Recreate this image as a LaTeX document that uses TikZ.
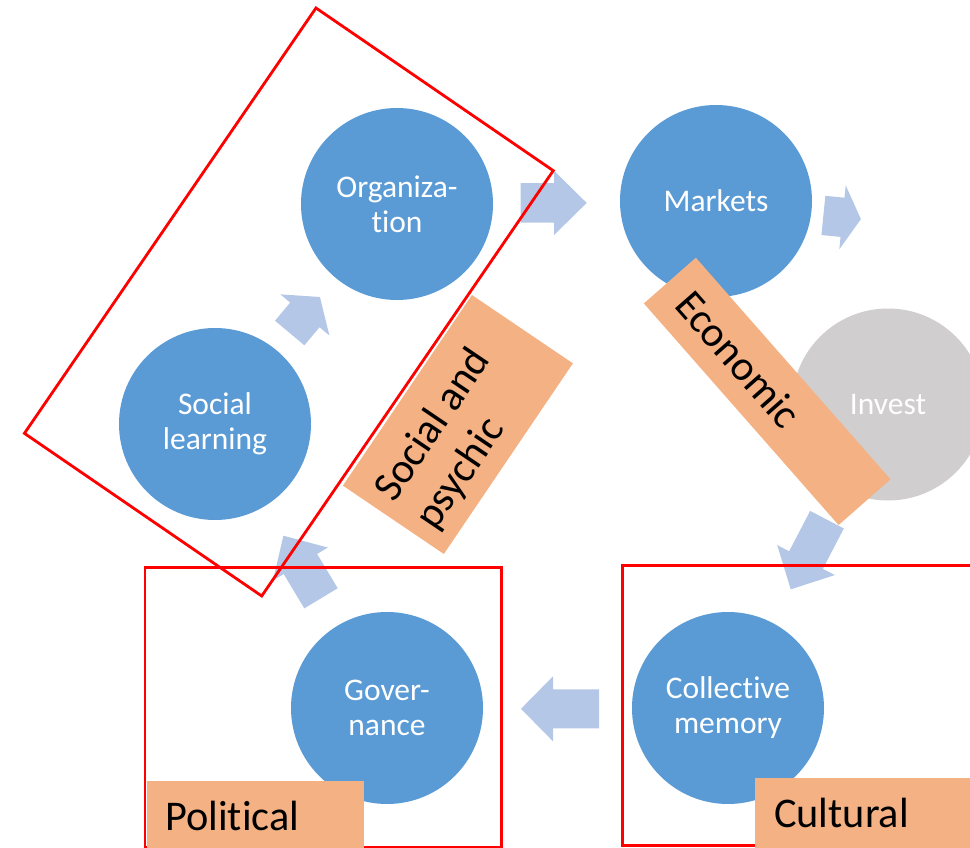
\documentclass[tikz,border=0pt]{standalone}
\usepackage{fontspec}
\setmainfont[Ligatures=NoCommon]{Carlito}
\usetikzlibrary{calc}

\definecolor{nodeblue}{HTML}{5B9BD5}
\definecolor{arrowblue}{HTML}{B4C7E7}
\definecolor{investgray}{HTML}{D0CECE}
\definecolor{tagorange}{HTML}{F4B183}
\definecolor{framered}{HTML}{FF0000}

\tikzset{
  stage/.style={circle, fill=nodeblue, minimum size=192, inner sep=0,
    text=white, align=center, font=\fontsize{31.5}{35}\selectfont},
  idlestage/.style={stage, fill=investgray},
  redframe/.style={draw=framered, line width=2.8},
  labelbox/.style={fill=tagorange, draw=none, inner sep=0},
  labeltext/.style={font=\fontsize{42.3}{50}\selectfont, inner sep=0, text=black},
  % block arrow along +x: length, head length, shaft width, head width
  pics/blockarrow/.style n args={4}{code={
    \fill[arrowblue] (0,-#3/2) -- (#1-#2,-#3/2) -- (#1-#2,-#4/2) -- (#1,0)
      -- (#1-#2,#4/2) -- (#1-#2,#3/2) -- (0,#3/2) -- cycle;}}
}

\begin{document}
\begin{tikzpicture}[x=1pt, y=-1pt]
  \useasboundingbox (0,0) rectangle (970,848);
  \clip (0,0) rectangle (970,848);

  % stages of the cycle
  \node[stage]     (org) at (397,204) {Organiza-\\tion};
  \node[stage]     (mkt) at (716,201) {Markets};
  \node[idlestage] (inv) at (888,404.5) {Invest};
  \node[stage]     (mem) at (728,708) {Collective\\memory};
  \node[stage]     (gov) at (387,708) {Gover-\\nance};
  \node[stage]     (soc) at (215,424) {Social\\learning};

  % block arrows between stages
  \pic (a1) [rotate=0]      at (520.7,202.9) {blockarrow={66}{32.7}{39.7}{64.3}};
  \pic (a2) [rotate=-5.7]   at (823.4,215.4) {blockarrow={37.7}{18.5}{39.4}{64.3}};
  \pic (a3) [rotate=-117.5] at (827,519.7)   {blockarrow={78.5}{33}{38}{65}};
  \pic (a4) [rotate=180]    at (599,708.8)   {blockarrow={78}{32}{39}{65}};
  \pic (a5) [rotate=121]    at (321,598.3)   {blockarrow={73}{33}{39}{64}};
  \pic (a6) [rotate=50]     at (289.7,333)   {blockarrow={47}{23.4}{38.3}{64}};

  % grouping frames
  \node[redframe, rotate=55.57, minimum width=515.7, minimum height=287.7,
        inner sep=0] (psyframe) at (288.85,302) {};
  \draw[redframe] (145,567.7) rectangle (501.7,847);
  \draw[redframe] (622.7,565.7) rectangle (1000,845.7);

  % domain labels
  \node[labelbox, rotate=55.9, minimum width=230.2, minimum height=121.9]
        (psybox) at (457.9,424.5) {};
  \node[labeltext, rotate=55.9, anchor=base west] (psy1) at (394,504) {Social and};
  \node[labeltext, rotate=55.9, anchor=base west] (psy2) at (435.4,532) {psychic};

  \node[labelbox, rotate=-48.7, minimum width=295, minimum height=69.2]
        (ecobox) at (767.2,391.4) {};
  \node[labeltext, rotate=-48.7, anchor=base west] (eco) at (673,306.5) {Economic};

  \node[labelbox, anchor=north west, minimum width=217, minimum height=70]
        (polbox) at (147,781) {};
  \node[labeltext, anchor=base west] (pol) at (165,830) {Political};

  \node[labelbox, anchor=north west, minimum width=230, minimum height=75]
        (culbox) at (755,777.7) {};
  \node[labeltext, anchor=base west] (cul) at (774,827) {Cultural};
\end{tikzpicture}
\end{document}
